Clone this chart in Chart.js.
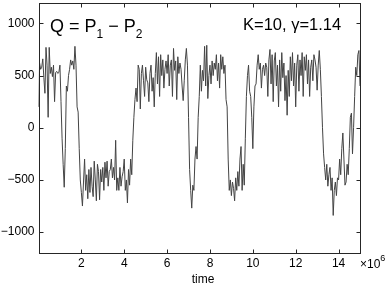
<!DOCTYPE html>
<html>
<head>
<meta charset="utf-8">
<script src="https://cdn.jsdelivr.net/npm/chart.js@4/dist/chart.umd.min.js"></script>
<style>
  html, body { margin: 0; padding: 0; background: #fff; }
  canvas { display: block; }
</style>
</head>
<body>
<canvas id="grafiek" width="391" height="291"></canvas>
<script>
// Q = P1 - P2, one sample every 0.05 x10^6 time units (0 .. 15)
const stap = 0.05;
const Q = [
  200, 620, 560, 580, 660, 480, 330, 770, 600, 100,
  770, 520, 580, 490, 600, 250, 530, 540, 520, 530,
  600, 250, -100, -350, -570, -200, 400, 350, 500, 560,
  650, 600, 640, 560, 780, 600, 200, 150, -200, -500,
  -620, -750, -520, -300, -600, -450, -680, -400, -620, -380,
  -560, -660, -320, -500, -700, -350, -420, -690, -400, -520,
  -380, -600, -330, -480, -320, -560, -420, -400, -300, -480,
  -380, -500, -120, -600, -480, -600, -380, -560, -470, -420,
  -300, -600, -500, -720, -400, -550, -300, -450, -120, 100,
  270, 380, 250, 600, 560, 180, 520, 600, 450, 300,
  580, 460, 430, 250, 520, 600, 350, 480, 200, 520,
  720, 420, 680, 300, 700, 500, 650, 380, 560, 640,
  520, 700, 400, 600, 650, 300, 760, 550, 640, 270,
  680, 520, 620, 560, 400, 260, 450, 650, 760, 600,
  100, -400, -600, -770, -550, -600, -300, -180, -300, 100,
  300, 600, 350, 550, 450, 780, 400, 790, 280, 500,
  600, 420, 640, 500, 620, 560, 700, 450, 620, 380,
  700, 560, 680, 520, 600, 270, 200, -300, -600, -500,
  -650, -520, -580, -700, -480, -600, -420, -560, -300, -180,
  -600, -350, -550, -100, 300, 500, 600, 350, 300, 100,
  -200, 200, 400, 420, 600, 700, 560, 620, 380, 560,
  600, 500, 620, 580, 300, 650, 750, 420, 700, 250,
  640, 720, 400, 600, 200, 650, 350, 720, 480, 620,
  260, 500, 120, 550, 300, 680, 450, 720, 400, 620,
  200, 600, 700, 350, 650, 500, 720, 300, 680, 550,
  700, 420, 650, 300, 580, 650, 450, 700, 650, 580,
  360, 600, 740, 560, 300, 0, -250, -380, -500, -350,
  -560, -450, -380, -600, -480, -840, -600, -520, -650, -480,
  -500, -300, -450, -200, -50, -300, -550, -520, -350, -450,
  -200, 100, 140, -250, 0, 300, 580, 500, 700, 740,
  400
];
const tijd = Q.map((_, i) => +(i * stap).toFixed(2));

const xTicks = [2, 4, 6, 8, 10, 12, 14];
const yTicks = [-1000, -500, 0, 500, 1000];

const lettertype = "'Liberation Sans', Arial, Helvetica, sans-serif";

// matlab-achtige kader met tickjes naar binnen + teksten
const kaderPlugin = {
  id: 'kader',
  afterDraw(chart) {
    const ctx = chart.ctx;
    const a = chart.chartArea;
    const xs = chart.scales.x, ys = chart.scales.y;
    const L = Math.round(a.left) + 0.5, R = Math.round(a.right) + 0.5;
    const T = Math.round(a.top) + 0.5, B = Math.round(a.bottom) + 0.5;
    ctx.save();
    ctx.strokeStyle = '#262626';
    ctx.lineWidth = 1;
    ctx.strokeRect(L, T, R - L, B - T);
    ctx.beginPath();
    xTicks.forEach(v => {
      const p = Math.round(xs.getPixelForValue(v)) + 0.5;
      ctx.moveTo(p, B); ctx.lineTo(p, B - 4);
      ctx.moveTo(p, T); ctx.lineTo(p, T + 4);
    });
    yTicks.forEach(v => {
      const p = Math.round(ys.getPixelForValue(v)) + 0.5;
      ctx.moveTo(L, p); ctx.lineTo(L + 4, p);
      ctx.moveTo(R, p); ctx.lineTo(R - 4, p);
    });
    ctx.stroke();

    ctx.fillStyle = '#000';
    ctx.textBaseline = 'alphabetic';
    ctx.textAlign = 'left';

    // Q = P1 - P2
    let x = 50;
    const groot = '18px ' + lettertype, klein = '12px ' + lettertype;
    const stuk = (t, f, dy) => {
      ctx.font = f;
      ctx.fillText(t, x, 31.5 + dy);
      x += ctx.measureText(t).width;
    };
    stuk('Q = P', groot, 0);
    stuk('1', klein, 6);
    stuk(' \u2212 P', groot, 0);
    stuk('2', klein, 6);

    ctx.font = '16.5px ' + lettertype;
    ctx.fillText('K=10, \u03B3=1.14', 243, 30);

    // x-as label en exponent
    ctx.font = '12px ' + lettertype;
    ctx.textAlign = 'center';
    ctx.fillText('time', 203, 283);
    ctx.textAlign = 'left';
    ctx.fillText('\u00D710', 360, 268);
    const w = ctx.measureText('\u00D710').width;
    ctx.font = '9px ' + lettertype;
    ctx.fillText('6', 360 + w, 261);
    ctx.restore();
  }
};

new Chart(document.getElementById('grafiek').getContext('2d'), {
  type: 'line',
  data: {
    datasets: [{
      data: tijd.map((t, i) => ({ x: t, y: Q[i] })),
      borderColor: '#444444',
      borderWidth: 1,
      pointRadius: 0,
      tension: 0,
      fill: false
    }]
  },
  options: {
    responsive: false,
    animation: false,
    events: [],
    layout: { padding: { left: 0, right: 31, top: 2.5, bottom: 0 } },
    plugins: { legend: { display: false }, tooltip: { enabled: false } },
    scales: {
      x: {
        type: 'linear',
        min: 0, max: 15,
        afterBuildTicks: s => { s.ticks = xTicks.map(v => ({ value: v })); },
        afterFit: s => { s.height = 38; s.paddingLeft = 0; s.paddingRight = 0; },
        grid: { display: false, drawTicks: false },
        border: { display: false },
        ticks: {
          color: '#000', padding: 3, maxRotation: 0, autoSkip: false,
          font: { family: lettertype, size: 12 }
        }
      },
      y: {
        min: -1200, max: 1200,
        afterBuildTicks: s => { s.ticks = yTicks.map(v => ({ value: v })); },
        afterFit: s => { s.width = 38.5; s.paddingTop = 0; s.paddingBottom = 0; },
        grid: { display: false, drawTicks: false },
        border: { display: false },
        ticks: {
          color: '#000', padding: 4,
          font: { family: lettertype, size: 12 },
          callback: v => String(v).replace('-', '\u2212')
        }
      }
    }
  },
  plugins: [kaderPlugin]
});
</script>
</body>
</html>
